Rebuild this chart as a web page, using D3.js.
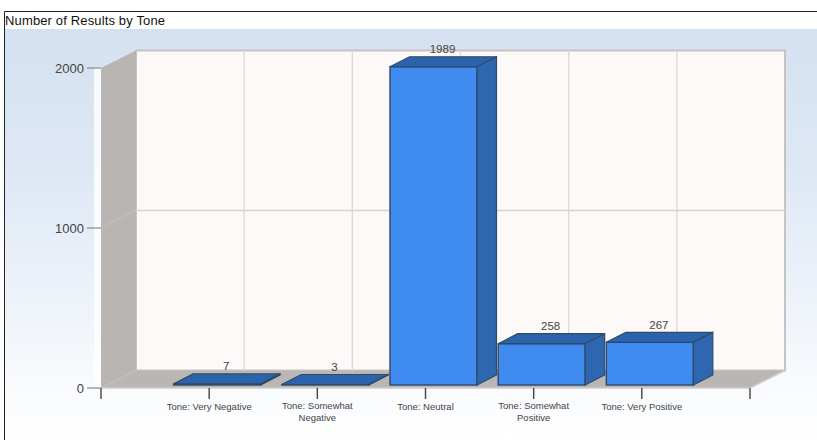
<!DOCTYPE html>
<html><head><meta charset="utf-8">
<script src="https://cdn.jsdelivr.net/npm/d3@7/dist/d3.min.js"></script>
<style>html,body{margin:0;padding:0;background:#fff}svg{display:block}</style>
</head><body><svg id="c" width="817" height="440"></svg>
<script>
const titleText = "Number of Results by Tone";
const categories = ["Tone: Very Negative","Tone: Somewhat Negative","Tone: Neutral","Tone: Somewhat Positive","Tone: Very Positive"];
const wrappedLabels = [["Tone: Very Negative"],["Tone: Somewhat","Negative"],["Tone: Neutral"],["Tone: Somewhat","Positive"],["Tone: Very Positive"]];
const values = [7,3,1989,258,267];
const yTicks = [0,1000,2000];
const svg = d3.select("#c");
const x = d3.scaleLinear().domain([0,6]).range([101,750]);
const y = d3.scaleLinear().domain([0,2000]).range([388,68]);
const DX=35, DY=-17.5;
const defs = svg.append("defs");
const g = defs.append("linearGradient").attr("id","bg").attr("x1",0).attr("x2",0).attr("y1",0).attr("y2",1);
g.append("stop").attr("offset",0).attr("stop-color","#d5e1f1");
g.append("stop").attr("offset",0.35).attr("stop-color","#deE8f5");
g.append("stop").attr("offset",1).attr("stop-color","#ffffff");
const pts=a=>a.map(p=>p.join(",")).join(" ");
svg.append("rect").attr("x",5).attr("y",29).attr("width",812).attr("height",411).attr("fill","url(#bg)");
svg.append("rect").attr("x",5).attr("y",12).attr("width",812).attr("height",17).attr("fill","#fff");
svg.append("path").attr("d","M4.5,440V11.5H817").attr("fill","none").attr("stroke","#222");
svg.append("text").attr("x",5).attr("y",25).attr("font-family","Liberation Sans").attr("font-size",13).attr("textLength",160).attr("fill","#111").text(titleText);
// white edge beside the wall
svg.append("rect").attr("x",x(0)-7).attr("y",y(2000)).attr("width",7).attr("height",y(0)-y(2000)).attr("fill","#fff").attr("opacity",.8);
// back wall
svg.append("rect").attr("x",x(0)+DX).attr("y",y(2000)+DY).attr("width",x(6)-x(0)).attr("height",y(0)-y(2000)).attr("fill","#fdf9f8").attr("stroke","#c6c4c2").attr("stroke-width",2);
// side wall & floor
svg.append("polygon").attr("points",pts([[x(0),y(2000)],[x(0)+DX,y(2000)+DY],[x(0)+DX,y(0)+DY],[x(0),y(0)]])).attr("fill","#b9b5b3");
svg.append("polygon").attr("points",pts([[x(0),y(0)],[x(0)+DX,y(0)+DY],[x(6)+DX,y(0)+DY],[x(6),y(0)]])).attr("fill","#bab6b4");
svg.append("polyline").attr("points",pts([[x(0),y(0)],[x(6),y(0)],[x(6)+DX,y(0)+DY]])).attr("fill","none").attr("stroke","#d0cecd").attr("stroke-width",1.5);
// grid
d3.range(1,6).forEach(i=>{
  svg.append("line").attr("x1",x(i)+DX).attr("x2",x(i)+DX).attr("y1",y(2000)+DY).attr("y2",y(0)+DY).attr("stroke","#dcdad9").attr("stroke-width",1.4);
});
svg.append("line").attr("x1",x(0)+DX).attr("x2",x(6)+DX).attr("y1",y(1000)+DY).attr("y2",y(1000)+DY).attr("stroke","#d6d4d3").attr("stroke-width",1.4);
svg.append("line").attr("x1",x(0)).attr("x2",x(0)+DX).attr("y1",y(1000)).attr("y2",y(1000)+DY).attr("stroke","#c4c1bf");
// y axis
yTicks.forEach(t=>{
  svg.append("line").attr("x1",x(0)-14).attr("x2",x(0)).attr("y1",y(t)).attr("y2",y(t)).attr("stroke","#888").attr("stroke-width",1.2);
  svg.append("text").attr("x",x(0)-17).attr("y",y(t)+5).attr("text-anchor","end").attr("font-family","Liberation Sans").attr("font-size",13).attr("fill","#444").text(t);
});
// x ticks
d3.range(0,7).forEach(i=>{
  svg.append("line").attr("x1",x(i)).attr("x2",x(i)).attr("y1",y(0)).attr("y2",y(0)+11).attr("stroke","#444").attr("stroke-width",1.4);
});
// bars
const barW=87, ox=8, oy=-3, bdx=19.5, bdy=-10;
values.forEach((v,i)=>{
  const cx=x(i+1)+ox, xl=cx-barW/2, xr=cx+barW/2, yb=y(0)+oy, yt=y(v)+oy;
  const s="#2f4a68";
  svg.append("rect").attr("x",xl).attr("y",yt).attr("width",barW).attr("height",yb-yt).attr("fill","#3f8bf0").attr("stroke",s).attr("stroke-width",1.4);
  svg.append("polygon").attr("points",pts([[xl,yt],[xl+bdx,yt+bdy],[xr+bdx,yt+bdy],[xr,yt]])).attr("fill","#2c63ad").attr("stroke",s).attr("stroke-width",1.2);
  svg.append("polygon").attr("points",pts([[xr,yt],[xr+bdx,yt+bdy],[xr+bdx,yb+bdy],[xr,yb]])).attr("fill","#2f66b0").attr("stroke",s).attr("stroke-width",1.2);
  svg.append("text").attr("x",x(i+1)+17).attr("y",y(v)-16.5).attr("text-anchor","middle").attr("font-family","Liberation Sans").attr("font-size",11.5).attr("fill","#444").text(v);
});
// category labels
wrappedLabels.forEach((ls,i)=>{
  ls.forEach((l,j)=>{
    svg.append("text").attr("x",x(i+1)).attr("y",(ls.length>1?409:410)+j*11.5).attr("text-anchor","middle").attr("font-family","Liberation Sans").attr("font-size",9.5).attr("fill","#444").text(l);
  });
});
</script></body></html>
